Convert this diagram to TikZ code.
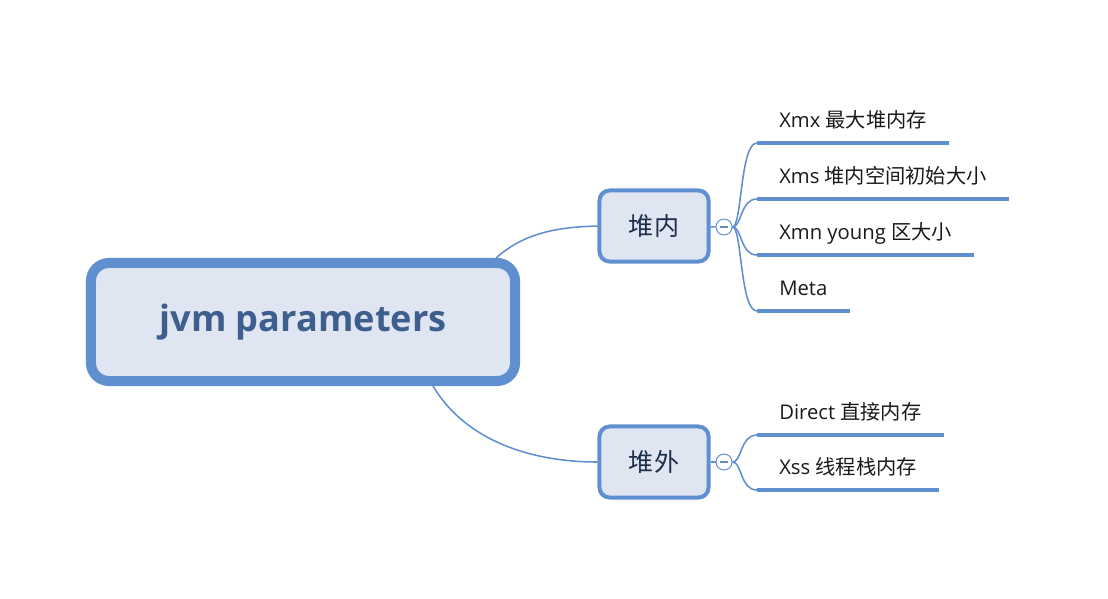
\documentclass[tikz,border=0pt]{standalone}
\usepackage{fontspec}
\setmainfont{Open Sans}
\newfontfamily\cjk{Noto Sans CJK SC}
\usetikzlibrary{backgrounds}
\definecolor{mapblue}{RGB}{96,143,207}
\definecolor{mapfill}{RGB}{223,230,241}
\definecolor{maintext}{RGB}{62,94,142}
\definecolor{subtext}{RGB}{30,45,75}
\begin{document}
\begin{tikzpicture}[x=0.025cm,y=-0.025cm,
                    main node/.style={rectangle,rounded corners=0.45cm,draw=mapblue,fill=mapfill,line width=0.25cm,minimum width=10.6cm,minimum height=2.95cm,inner sep=0pt,text=maintext,font=\fontsize{25.7}{30}\selectfont\bfseries},
                    sub node/.style={rectangle,rounded corners=0.25cm,draw=mapblue,fill=mapfill,line width=0.1cm,minimum width=2.725cm,minimum height=1.775cm,inner sep=0pt,text=subtext,font=\fontsize{17.8}{20}\selectfont\cjk},
                    fold/.style={circle,draw=mapblue,fill=white,line width=0.7pt,minimum size=0.4cm,inner sep=0pt},
                    leaf node/.style={anchor=south west,inner xsep=0.55cm,inner ysep=0.27cm,text height=0.35cm,text depth=0.1cm,text=black!90,font=\fontsize{14.4}{17}\selectfont},
                    underline/.style={draw=mapblue,line width=0.1cm},
                    branch/.style={draw=mapblue,line width=1.1pt}]

  \useasboundingbox (0,0) rectangle (1108,598);

  \node[main node] (main) at (303,322) {jvm parameters};
  \node[sub node] (hin) at (654,226) {堆内};
  \node[sub node] (hout) at (654,462) {堆外};

  \node[fold] (f1) at (724,227) {\textcolor{mapblue!70!gray}{\rule{0.2cm}{0.8pt}}};
  \node[fold] (f2) at (724,462) {\textcolor{mapblue!70!gray}{\rule{0.2cm}{0.8pt}}};

  % Main edges
  \begin{scope}[on background layer]
    \draw[branch] ([xshift=-0.6cm]main.north east) .. controls (525,232) and (560,227) .. (hin.west);
    \draw[branch] ([xshift=3.25cm]main.south) .. controls (465,440) and (530,462) .. (hout.west);
    \draw[branch] (hin) -- (f1);
    \draw[branch] (hout) -- (f2);
  \end{scope}

  % Heap leaves
  \foreach \y/\name/\desc in {143/xmx/{Xmx {\cjk 最大堆内存}}, 199/xms/{Xms {\cjk 堆内空间初始大小}}, 255/xmn/{Xmn young {\cjk 区大小}}, 311/meta/Meta}
  {
    \node[leaf node] (\name) at (757,\y) {\desc};
    \draw[underline] (\name.south west) -- (\name.south east);
    \draw[branch] (f1.east) .. controls (742,227) and (740,\y) .. (\name.south west);
  }

  % Off-heap leaves
  \foreach \y/\name/\desc in {435/direct/{Direct {\cjk 直接内存}}, 490/xss/{Xss {\cjk 线程栈内存}}}
  {
    \node[leaf node] (\name) at (757,\y) {\desc};
    \draw[underline] (\name.south west) -- (\name.south east);
    \draw[branch] (f2.east) .. controls (742,462) and (740,\y) .. (\name.south west);
  }
\end{tikzpicture}
\end{document}
